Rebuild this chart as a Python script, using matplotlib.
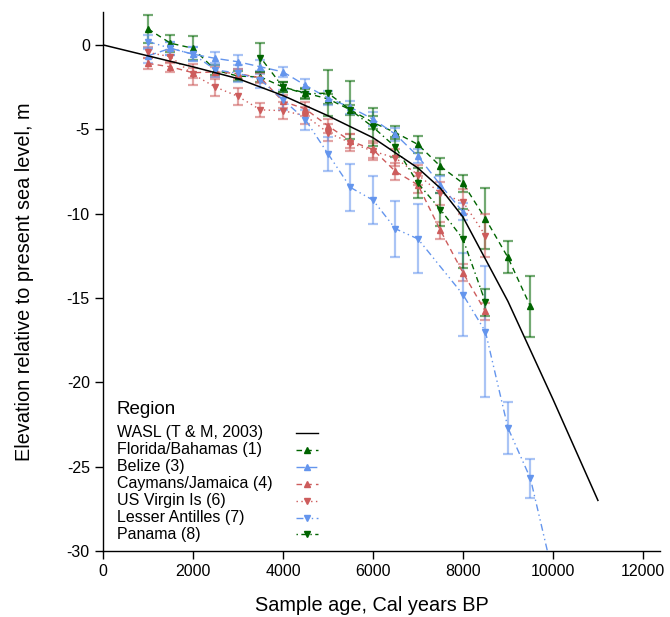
import matplotlib
matplotlib.use("Agg")
import matplotlib.pyplot as plt
import numpy as np

plt.rcParams['font.family'] = ['Liberation Sans', 'DejaVu Sans']
plt.rcParams['axes.unicode_minus'] = False

# WASL curve (Toscano & Macintyre, 2003)
wasl_age = [0, 1000, 2000, 3000, 4000, 5000, 6000, 7000, 7500, 8000, 9000, 10000, 11000]
wasl_elev = [0, -0.65, -1.3, -2.0, -3.0, -4.2, -5.5, -7.3, -8.5, -10.2, -15.2, -21.0, -27.0]

# Florida/Bahamas (1)
fl_age = [1000, 1500, 2000, 2500, 3000, 3500, 4000, 4500, 5000, 5500, 6000, 6500, 7000, 7500, 8000, 8500, 9000, 9500]
fl_elev = [0.95, 0.1, -0.2, -1.5, -1.85, -1.9, -2.5, -2.85, -3.2, -3.85, -4.6, -5.2, -5.9, -7.2, -8.2, -10.3, -12.6, -15.5]
fl_err = [0.85, 0.5, 0.7, 0.3, 0.3, 0.3, 0.3, 0.3, 0.3, 0.3, 0.4, 0.4, 0.5, 0.5, 0.5, 1.8, 0.95, 1.8]

# Belize (3)
bz_age = [1000, 1500, 2000, 2500, 3000, 3500, 4000, 4500, 5000, 5500, 6000, 6500, 7000, 7500, 8000]
bz_elev = [-0.65, -0.2, -0.55, -0.8, -1.0, -1.3, -1.6, -2.4, -3.15, -3.7, -4.4, -5.3, -6.6, -8.3, -9.9]
bz_err = [0.4, 0.4, 0.4, 0.4, 0.4, 0.4, 0.3, 0.4, 0.4, 0.4, 0.4, 0.4, 0.4, 0.5, 0.5]

# Caymans/Jamaica (4)
cj_age = [1000, 1500, 2000, 2500, 3000, 3500, 4000, 4500, 5000, 5500, 6000, 6500, 7000, 7500, 8000, 8500]
cj_elev = [-1.1, -1.3, -1.65, -1.6, -1.7, -1.95, -3.35, -3.8, -4.8, -5.7, -6.2, -7.5, -8.3, -11.0, -13.5, -15.8]
cj_err = [0.3, 0.3, 0.3, 0.3, 0.3, 0.3, 0.4, 0.4, 0.4, 0.4, 0.5, 0.5, 0.5, 0.5, 0.5, 0.5]

# US Virgin Is (6)
vi_age = [1000, 1500, 2000, 2500, 3000, 3500, 4000, 4500, 5000, 5500, 6000, 6500, 7000, 7500, 8000, 8500]
vi_elev = [-0.45, -0.7, -1.75, -2.5, -3.05, -3.85, -3.9, -4.2, -5.2, -5.8, -6.3, -6.7, -7.7, -8.8, -9.3, -11.3]
vi_err = [0.3, 0.4, 0.6, 0.5, 0.5, 0.4, 0.5, 0.5, 0.5, 0.5, 0.5, 0.5, 0.6, 0.7, 0.75, 1.3]

# Lesser Antilles (7)
la_age = [1000, 1500, 2000, 2500, 3000, 3500, 4000, 4500, 5000, 5500, 6000, 6500, 7000, 8000, 8500, 9000, 9500, 10000]
la_elev = [0.2, -0.2, -0.55, -1.48, -1.68, -2.07, -3.25, -4.44, -6.45, -8.45, -9.2, -10.9, -11.5, -14.8, -17.0, -22.7, -25.7, -31.4]
la_err = [0.4, 0.4, 0.4, 0.4, 0.5, 0.5, 0.6, 0.6, 1.0, 1.4, 1.4, 1.65, 2.05, 2.45, 3.9, 1.55, 1.15, 1.2]

# Panama (8)
pa_age = [3500, 4000, 4500, 5000, 5500, 6000, 6500, 7000, 7500, 8000, 8500]
pa_elev = [-0.75, -2.5, -2.9, -2.86, -3.85, -4.87, -6.05, -8.2, -9.76, -11.5, -15.25]
pa_err = [0.85, 0.3, 0.3, 1.35, 1.7, 1.1, 0.6, 0.9, 1.0, 1.75, 0.8]

GREEN = '#006400'
BLUE = '#6495ED'
RED = '#CD5C5C'

series = [
    ("Florida/Bahamas (1)", fl_age, fl_elev, fl_err, GREEN, '^', (0, (4, 3))),
    ("Belize (3)", bz_age, bz_elev, bz_err, BLUE, '^', (0, (6, 3))),
    ("Caymans/Jamaica (4)", cj_age, cj_elev, cj_err, RED, '^', (0, (4, 3))),
    ("US Virgin Is (6)", vi_age, vi_elev, vi_err, RED, 'v', (0, (1, 2.5))),
    ("Lesser Antilles (7)", la_age, la_elev, la_err, BLUE, 'v', (0, (5, 2.5, 1, 2.5, 1, 2.5))),
    ("Panama (8)", pa_age, pa_elev, pa_err, GREEN, 'v', (0, (1, 2.5, 4, 2.5))),
]

W, H = 670, 617
fig = plt.figure(figsize=(W / 100, H / 100), dpi=100)
L, R, B, T = 103, 660, 551, 12
ax = fig.add_axes([L / W, (H - B) / H, (R - L) / W, (B - T) / H])

ax.plot(wasl_age, wasl_elev, color='black', lw=1.1, zorder=5)

for name, a, e, err, col, mk, ls in series:
    ax.errorbar(a, e, yerr=err, fmt='none', ecolor=col, alpha=0.55, elinewidth=1.6,
                capsize=3.3, capthick=1.6, zorder=2)
    ax.plot(a, e, color=col, ls=ls, lw=1.0, marker=mk, ms=5, mec=col, mfc=col, zorder=3)

ax.set_xlim(0, 12380)
ax.set_ylim(-30, 1.95)
ax.set_xticks([0, 2000, 4000, 6000, 8000, 10000, 12000])
ax.set_yticks([0, -5, -10, -15, -20, -25, -30])
for s in ['top', 'right']:
    ax.spines[s].set_visible(False)
for s in ['left', 'bottom']:
    ax.spines[s].set_linewidth(1.0)
ax.tick_params(direction='out', length=6, width=1.0, labelsize=11.5, colors='black')


def fx(px):
    return (px - L) / (R - L)


def fy(py):
    return (B - py) / (B - T)


ax.set_xlabel("Sample age, Cal years BP", fontsize=14.3)
ax.set_ylabel("Elevation relative to present sea level, m", fontsize=14.3, labelpad=23.5)
ax.xaxis.set_label_coords(fx(372), fy(596))

# Legend: text on left, key on right
ax.text(fx(117), fy(409), "Region", transform=ax.transAxes, fontsize=13.5, va='center', ha='left')
entries = [("WASL (T & M, 2003)", 'black', None, '-')] + [(s[0], s[4], s[5], s[6]) for s in series]
y0, dy = 433, 16.9
for i, (name, col, mk, ls) in enumerate(entries):
    yy = fy(y0 + i * dy)
    ax.text(fx(117), yy, name, transform=ax.transAxes, fontsize=11.5, va='center', ha='left')
    ax.plot([fx(296), fx(318)], [yy, yy], transform=ax.transAxes, color=col, ls=ls, lw=1.0,
            clip_on=False, zorder=6)
    if mk is not None:
        ax.plot([fx(307)], [yy], transform=ax.transAxes, color=col, marker=mk, ms=4.5,
                clip_on=False, zorder=6)

fig.savefig("out.png", dpi=100)
